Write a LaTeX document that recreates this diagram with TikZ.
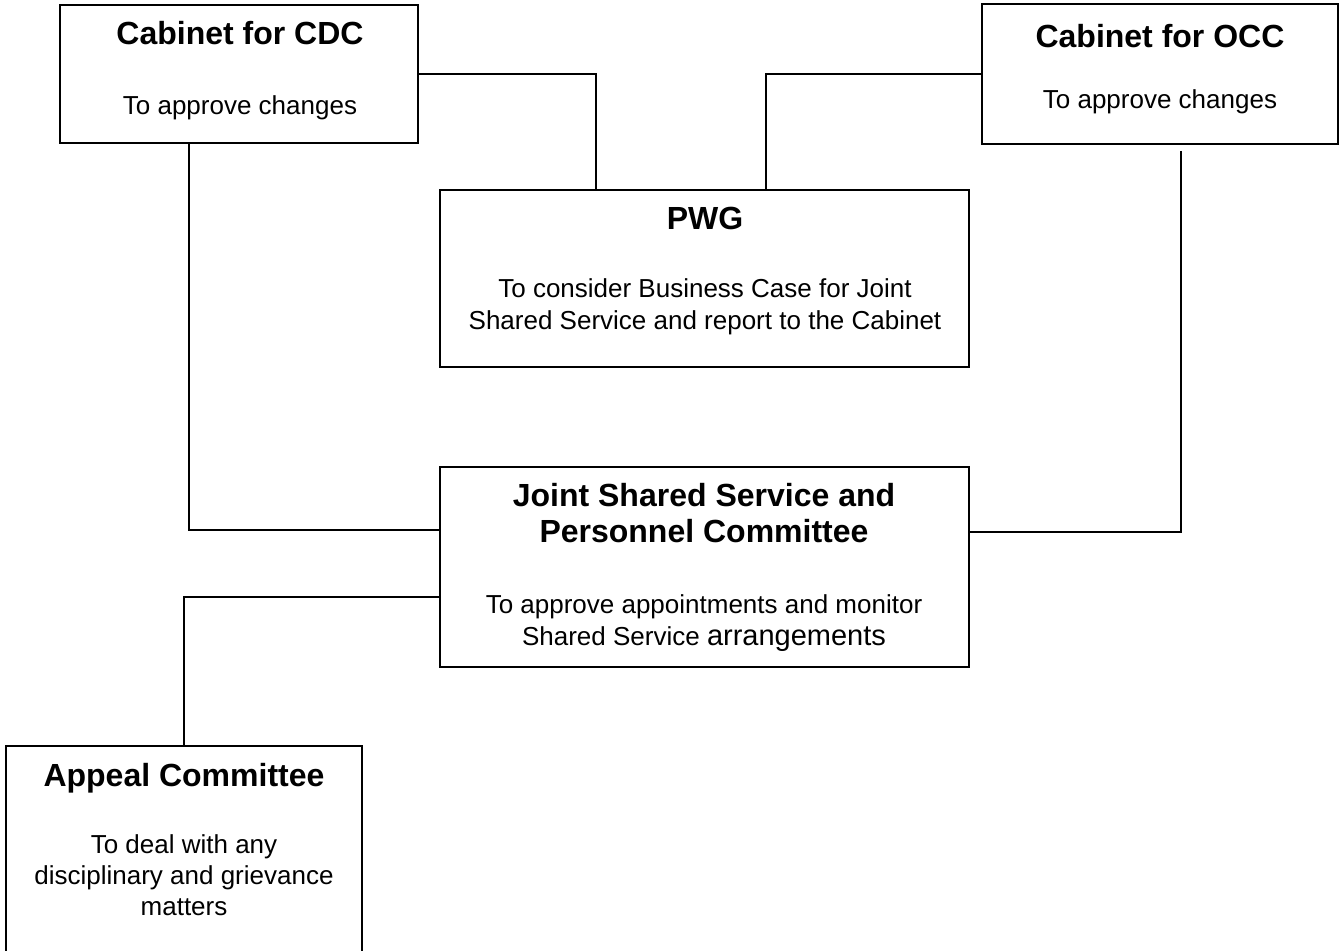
\documentclass[tikz,border=0pt]{standalone}
\usepackage{fontspec}
\setmainfont{Liberation Sans}

\begin{document}
\begin{tikzpicture}[
  x=0.5pt, y=-0.5pt,
  box/.style={draw=black, line width=0.75pt, inner sep=0pt},
  head/.style={font=\bfseries\fontsize{16}{18}\selectfont, align=center, inner sep=0pt, anchor=base},
  body/.style={font=\fontsize{13}{16}\selectfont, align=center, inner sep=0pt, anchor=base},
  link/.style={draw=black, line width=0.75pt},
]
\useasboundingbox (0,0) rectangle (1341,950);
% boxes
\node[box, minimum width=179pt, minimum height=69pt] (cdc) at (239,74) {};
\node[box, minimum width=178pt, minimum height=70pt] (occ) at (1160,74) {};
\node[box, minimum width=264.5pt, minimum height=88.5pt] (pwg) at (704.5,278.5) {};
\node[box, minimum width=264.5pt, minimum height=100pt] (jss) at (704.5,567) {};
\node[box, minimum width=178pt, minimum height=117pt] (appeal) at (184,863) {};
% texts (base = last line)
\node[head] (cdchead) at (240,44) {Cabinet for CDC};
\node[body] (cdcbody) at (240,114) {To approve changes};
\node[head] (occhead) at (1160,47) {Cabinet for OCC};
\node[body] (occbody) at (1160,108) {To approve changes};
\node[head] (pwghead) at (705,229) {PWG};
\node[body] (pwgbody) at (705,329) {To consider Business Case for Joint\\Shared Service and report to the Cabinet};
\node[head] (jsshead) at (704,542) {Joint Shared Service and\\Personnel Committee};
\node[body] (jssbody) at (704,645) {To approve appointments and monitor\\Shared Service {\fontsize{14.5}{16}\selectfont arrangements}};
\node[head] (appealhead) at (184,786) {Appeal Committee};
\node[body, font=\fontsize{13}{15.3}\selectfont] (appealbody) at (184,915) {To deal with any\\disciplinary and grievance\\matters};
% links
\draw[link] (cdc.east) -| ([xshift=-54.25pt]pwg.north);
\draw[link] (occ.west) -| ([xshift=30.75pt]pwg.north);
\draw[link] ([xshift=-25pt]cdc.south) |- ([yshift=18.5pt]jss.west);
\draw[link] ([xshift=10.5pt,yshift=-3pt]occ.south) |- ([yshift=17.5pt]jss.east);
\draw[link] (appeal.north) |- ([yshift=-15pt]jss.west);
\end{tikzpicture}
\end{document}
